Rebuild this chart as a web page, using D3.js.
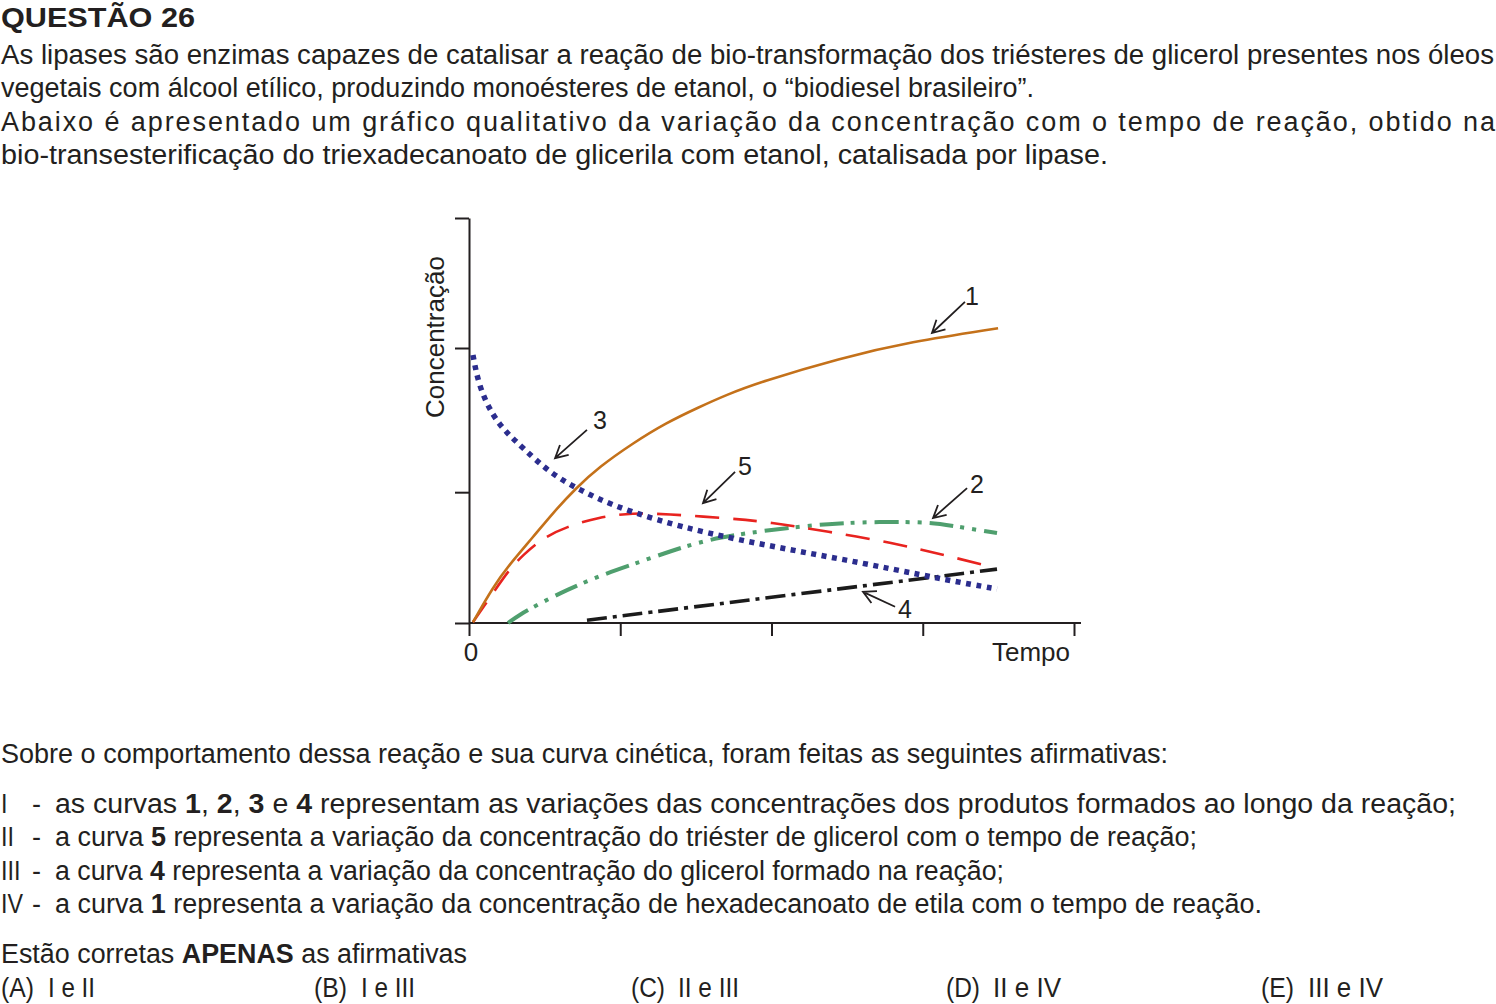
<!DOCTYPE html>
<html><head><meta charset="utf-8">
<script src="https://cdn.jsdelivr.net/npm/d3@7"></script>
<style>html,body{margin:0;padding:0;background:#fff;overflow:hidden}svg{display:block}</style>
</head><body><svg id="c" width="1496" height="1004"></svg>
<script>
// ---------- DATA ----------
const xTicks = [0, 1, 2, 3, 4];
const yTicks = [0, 0.323, 0.679, 1];
const xTickLabels = ["0", "Tempo"];
const yLabel = "Concentração";

// curve 1 – orange solid
const curve1 = [[0.026,0.002],[0.159,0.089],[0.264,0.143],[0.423,0.212],[0.555,0.272],[0.707,0.333],[0.860,0.385],[1.084,0.444],[1.302,0.494],[1.521,0.533],[1.699,0.563],[1.924,0.595],[2.453,0.654],[2.916,0.694],[3.498,0.728]];
// curve 2 – green dash-dot-dot
const curve2 = [[0.258,0.0],[0.331,0.020],[0.463,0.047],[0.641,0.081],[0.906,0.123],[1.170,0.156],[1.415,0.188],[1.653,0.212],[1.990,0.230],[2.387,0.246],[2.717,0.250],[3.048,0.249],[3.180,0.241],[3.491,0.222]];
// curve 3 – blue dotted
const curve3 = [[0.026,0.662],[0.066,0.583],[0.159,0.510],[0.251,0.469],[0.357,0.432],[0.536,0.370],[0.734,0.328],[0.952,0.290],[1.243,0.254],[1.574,0.222],[1.990,0.190],[2.387,0.163],[2.803,0.133],[3.160,0.106],[3.491,0.084]];
// curve 4 – black dash-dot
const curve4 = [[0.780,0.007],[2.122,0.069],[3.491,0.133]];
// curve 5 – red dashed
const curve5 = [[0.026,0.002],[0.159,0.074],[0.264,0.131],[0.357,0.168],[0.489,0.210],[0.641,0.237],[0.860,0.262],[1.084,0.272],[1.302,0.269],[1.699,0.259],[1.990,0.249],[2.367,0.226],[2.803,0.198],[3.160,0.166],[3.464,0.138]];

// annotation arrows: label, head [x,y], tail [x,y], text [x,y] (data units)
const annLabels = ["1", "2", "3", "4", "5"];
const annHeads = [[3.061,0.716],[3.068,0.259],[0.569,0.407],[2.605,0.077],[1.547,0.296]];
const annTails = [[3.279,0.793],[3.293,0.333],[0.780,0.477],[2.817,0.040],[1.759,0.373]];
const annTexts = [[3.326,0.807],[3.359,0.343],[0.866,0.501],[2.883,0.035],[1.825,0.388]];

// text content
const titleText = "QUESTÃO 26";
const introLines = [
  "As lipases são enzimas capazes de catalisar a reação de bio-transformação dos triésteres de glicerol presentes nos óleos",
  "vegetais com álcool etílico, produzindo monoésteres de etanol, o “biodiesel brasileiro”.",
  "Abaixo é apresentado um gráfico qualitativo da variação da concentração com o tempo de reação, obtido na",
  "bio-transesterificação do triexadecanoato de glicerila com etanol, catalisada por lipase."
];
const questionLine = "Sobre o comportamento dessa reação e sua curva cinética, foram feitas as seguintes afirmativas:";
const itemNumerals = ["I", "II", "III", "IV"];
const itemTexts = [
  [["as curvas ",0],["1",1],[", ",0],["2",1],[", ",0],["3",1],[" e ",0],["4",1],[" representam as variações das concentrações dos produtos formados ao longo da reação;",0]],
  [["a curva ",0],["5",1],[" representa a variação da concentração do triéster de glicerol com o tempo de reação;",0]],
  [["a curva ",0],["4",1],[" representa a variação da concentração do glicerol formado na reação;",0]],
  [["a curva ",0],["1",1],[" representa a variação da concentração de hexadecanoato de etila com o tempo de reação.",0]]
];
const correctLine = [["Estão corretas ",0],["APENAS",1],[" as afirmativas",0]];
const optionLetters = ["(A)", "(B)", "(C)", "(D)", "(E)"];
const optionTexts = ["I e II", "I e III", "II e III", "II e IV", "III e IV"];

// ---------- DRAW ----------
const ink = "#231f20";
const font = "'Liberation Sans', Arial, Helvetica, sans-serif";
const svg = d3.select("#c");
svg.append("rect").attr("width",1496).attr("height",1004).attr("fill","#fff");

function txt(g, x, y, segs, size, len, adjust) {
  const t = g.append("text").attr("x", x).attr("y", y)
    .attr("font-family", font).attr("font-size", size).attr("fill", ink);
  segs.forEach(s => t.append("tspan").attr("font-weight", s[1] ? "bold" : "normal").text(s[0]));
  if (len) t.attr("textLength", len).attr("lengthAdjust", adjust || "spacingAndGlyphs");
  return t;
}
const T = svg.append("g");
txt(T, 1, 27, [[titleText,1]], 28, 194);
const introLens = [1493, 1033, 1494, 1107];
const introAdj = ["spacingAndGlyphs","spacingAndGlyphs","spacing","spacingAndGlyphs"];
introLines.forEach((l,i) => txt(T, 1, 64 + i*33.3, [[l,0]], 27, introLens[i], introAdj[i]));

txt(T, 1, 763, [[questionLine,0]], 27, 1167);
const itemLens = [1401, 1142, 949, 1207];
itemNumerals.forEach((n,i) => {
  const yy = 813 + i*33.3;
  txt(T, 1, yy, [[n,0]], 27, n.length*6.5 + (n==="IV"?9:0));
  txt(T, 32, yy, [["-",0]], 27);
  txt(T, 55, yy, itemTexts[i], 27, itemLens[i]);
});
txt(T, 1, 963, correctLine, 27, 466);
const optX = [0, 313, 630, 945, 1260];
const optLen = [[33,47],[33,54],[34,61],[34,68],[33,75]];
optionLetters.forEach((o,i) => {
  txt(T, optX[i]+1, 997, [[o,0]], 27, optLen[i][0]);
  txt(T, optX[i]+48, 997, [[optionTexts[i],0]], 27, optLen[i][1]);
});

// chart
const x = d3.scaleLinear().domain([0,4]).range([469,1074]);
const y = d3.scaleLinear().domain([0,1]).range([623,218]);
const C = svg.append("g");

const yAxis = C.append("g").attr("transform",`translate(${x(0)},0)`)
  .call(d3.axisLeft(y).tickValues(yTicks).tickSize(14).tickSizeOuter(0).tickFormat(""));
const xAxis = C.append("g").attr("transform",`translate(0,${y(0)})`)
  .call(d3.axisBottom(x).tickValues(xTicks).tickSize(13).tickSizeOuter(0).tickFormat(""));
xAxis.select(".domain").attr("d", `M${x(0)},0H${x(4)+7}`);
[yAxis, xAxis].forEach(a => {
  a.selectAll(".domain, line").attr("stroke", ink).attr("stroke-width", 2);
});

C.append("text").attr("x", x(0)+2).attr("y", 661).attr("text-anchor","middle")
  .attr("font-family",font).attr("font-size",26).attr("fill",ink).text(xTickLabels[0]);
C.append("text").attr("x", x(4)-4).attr("y", 661).attr("text-anchor","end")
  .attr("font-family",font).attr("font-size",26).attr("fill",ink).text(xTickLabels[1]);
C.append("text").attr("transform",`translate(444,${y(0.706)}) rotate(-90)`)
  .attr("text-anchor","middle").attr("font-family",font).attr("font-size",26).attr("fill",ink).text(yLabel);

const line = d3.line().x(d=>x(d[0])).y(d=>y(d[1])).curve(d3.curveBasis);
const series = [
  {d: curve4, c: "#1b1b1b", w: 3.6, dash: "20,6,4,6"},
  {d: curve2, c: "#4f9f6e", w: 4,   dash: "24,7,4,8,4,8"},
  {d: curve5, c: "#e8231f", w: 2.6, dash: "24,14"},
  {d: curve1, c: "#c4711a", w: 2.6, dash: null},
  {d: curve3, c: "#2b2d8e", w: 5.5, dash: "5,5.5"}
];
series.forEach(s => {
  C.append("path").attr("d", line(s.d)).attr("fill","none")
    .attr("stroke", s.c).attr("stroke-width", s.w)
    .attr("stroke-dasharray", s.dash).attr("stroke-linecap","butt");
});

// annotations
const A = C.append("g");
annLabels.forEach((lab,i) => {
  const hx = x(annHeads[i][0]), hy = y(annHeads[i][1]);
  const tx = x(annTails[i][0]), ty = y(annTails[i][1]);
  const dx = hx-tx, dy = hy-ty, L = Math.hypot(dx,dy), ux = dx/L, uy = dy/L;
  const ang = 28*Math.PI/180, wl = 14;
  const w1 = [hx - wl*(ux*Math.cos(ang) - uy*Math.sin(ang)), hy - wl*(uy*Math.cos(ang) + ux*Math.sin(ang))];
  const w2 = [hx - wl*(ux*Math.cos(-ang) - uy*Math.sin(-ang)), hy - wl*(uy*Math.cos(-ang) + ux*Math.sin(-ang))];
  A.append("path").attr("d", `M${tx},${ty}L${hx},${hy}M${w1[0]},${w1[1]}L${hx},${hy}L${w2[0]},${w2[1]}`)
    .attr("fill","none").attr("stroke", ink).attr("stroke-width", 1.8);
  A.append("text").attr("x", x(annTexts[i][0])).attr("y", y(annTexts[i][1])+9)
    .attr("text-anchor","middle").attr("font-family",font).attr("font-size",25).attr("fill",ink).text(lab);
});
</script></body></html>
